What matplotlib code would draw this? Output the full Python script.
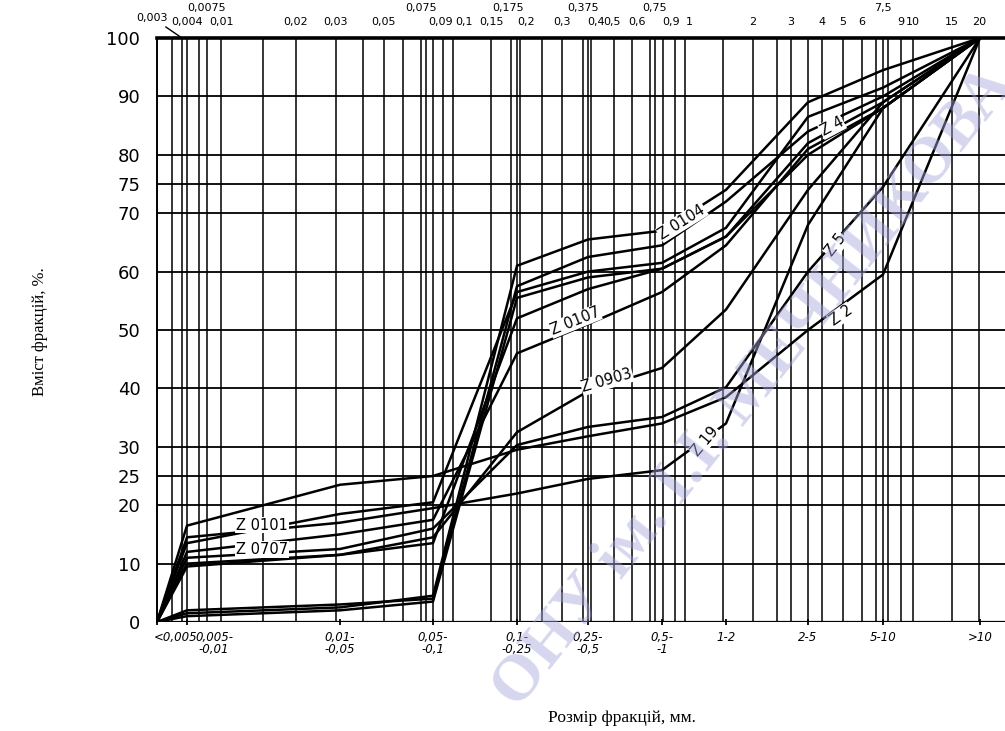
import matplotlib
matplotlib.use('Agg')
import matplotlib.pyplot as plt

# гранулометричний склад: категорії розміру фракцій (нижня вісь)
categories = ['<0,005', '0,005-\n-0,01', '0,01-\n-0,05', '0,05-\n-0,1', '0,1-\n-0,25',
              '0,25-\n-0,5', '0,5-\n-1', '1-2', '2-5', '5-10', '>10']

# кумулятивний вміст фракцій, %
z0104 = [0, 1.5, 2.5, 4.5, 61, 65.5, 67, 74, 89, 94.5, 100]
z4 = [0, 2, 3, 4, 57.5, 62.5, 64.5, 72, 84, 90, 100]
z_x = [0, 1, 2, 3.5, 55.5, 59, 60.5, 66, 82, 89, 100]
z0101 = [0, 13.5, 18.5, 20.5, 56.5, 60, 61.5, 67.5, 86.5, 91.5, 100]
z0707 = [0, 10, 11.5, 13.5, 52, 57, 60.5, 66, 80, 88, 100]
z0107 = [0, 12, 15, 17.5, 46, 51, 56.5, 64.5, 81, 88, 100]
z0903 = [0, 9.5, 11.5, 14.5, 32.5, 39.5, 43.5, 53.5, 74, 89, 100]
z5 = [0, 11, 12.5, 16, 30.3, 33.4, 35.1, 40.2, 60, 74.5, 100]
z2 = [0, 16.5, 23.5, 25, 29.5, 31.8, 34, 38.5, 50, 59.5, 100]
z19 = [0, 14.5, 17, 19.5, 22, 24.5, 26, 34, 68, 88, 100]

# верхня шкала, мм
top_labels = ['0,004', '0,0075', '0,01', '0,02', '0,03', '0,05', '0,075', '0,09', '0,1',
              '0,15', '0,175', '0,2', '0,3', '0,375', '0,4', '0,5', '0,6', '0,75', '0,9', '1',
              '2', '3', '4', '5', '6', '7,5', '9', '10', '15', '20']

y_ticks = [0, 10, 20, 25, 30, 40, 50, 60, 70, 75, 80, 90, 100]

# --- розкладка (рисунок намальований вручну, шкала нерівномірна) ---
cat_x = [0, 30, 183, 276, 360, 431, 505, 569, 651, 726, 823]
cat_label_x = {'<0,005': 19, '0,005-\n-0,01': 57}
top_x = [30, 50, 64, 139, 179, 227, 264, 286, 296, 334, 354, 363, 405, 426, 434,
         457, 475, 498, 518, 528, 596, 634, 665, 686, 705, 726, 744, 756, 795, 822]
top_shift = {'0,09': -2, '0,1': 11, '0,5': -2, '0,6': 5, '0,9': -4, '1': 4,
             '0,175': -3, '0,2': 6, '0,4': 5}
top_raised = ['0,0075', '0,075', '0,175', '0,375', '0,75', '7,5']
extra_grid = [15, 25, 42, 106, 206, 246, 269, 276, 360, 385, 431, 493, 506, 566, 620,
              651, 719, 731]

fig = plt.figure(figsize=(10.05, 7.31), dpi=100)
ax = fig.add_axes([157 / 1005, 109 / 731, 870 / 1005, 584 / 731])
ax.set_xlim(0, 870)
ax.set_ylim(0, 100)

for x in top_x + extra_grid:
    ax.axvline(x, color='black', lw=1.1, zorder=1)
for y in y_ticks[1:-1]:
    ax.axhline(y, color='black', lw=1.3, zorder=1)
ax.axhline(100, color='black', lw=2.6, zorder=1, clip_on=False)
ax.axhline(0, color='black', lw=1.6, zorder=1)

for s in ['top', 'right', 'bottom']:
    ax.spines[s].set_visible(False)
ax.spines['left'].set_linewidth(1.4)

series = [z0104, z4, z_x, z0101, z0707, z0107, z0903, z5, z2, z19]
for vals in series:
    ax.plot(cat_x, vals, color='black', lw=1.8, zorder=3, solid_joinstyle='round')

# підписи кривих
curve_labels = [('Z 0101', 105, 16.6, 0), ('Z 0707', 105, 12.4, 0),
                ('Z 0104', 525, 68.5, 32), ('Z 0107', 418, 51.5, 22),
                ('Z 0903', 450, 41.3, 16), ('Z 19', 548, 31.0, 50),
                ('Z 4', 675, 84.8, 28), ('Z 5', 679, 64.5, 52), ('Z 2', 684, 52.5, 35)]
for txt, x, y, rot in curve_labels:
    ax.text(x, y, txt, fontsize=10.5, ha='center', va='center', rotation=rot, zorder=4,
            bbox=dict(facecolor='white', edgecolor='none', pad=0.5))

# нижня шкала
ax.set_xticks(cat_x)
ax.set_xticklabels([])
ax.tick_params(axis='x', length=5, width=1.3, direction='inout')
for lab, x in zip(categories, cat_x):
    ax.text(cat_label_x.get(lab, x), -1.6, lab, fontsize=8.5, ha='center', va='top',
            linespacing=0.9, style='italic', clip_on=False)
ax.set_yticks(y_ticks)
ax.set_yticklabels([str(v) for v in y_ticks], fontsize=13)
ax.tick_params(axis='y', length=0, pad=12)

# верхня шкала
for lab, x in zip(top_labels, top_x):
    y = 105.2 if lab in top_raised else 102.8
    ax.text(x + top_shift.get(lab, 0), y, lab, fontsize=8, ha='center', va='center',
            clip_on=False)
ax.annotate('0,003', xy=(25, 100), xytext=(-5, 103.5), fontsize=8, ha='center',
            va='center', annotation_clip=False,
            arrowprops=dict(arrowstyle='-', color='black', lw=1, shrinkA=2, shrinkB=0))

fig.text(40 / 1005, 1 - 332 / 731, 'Вміст фракцій, %.', rotation=90, ha='center',
         va='center', fontsize=12, family='Liberation Serif')
fig.text(622 / 1005, 1 - 718 / 731, 'Розмір фракцій, мм.', ha='center', va='center',
         fontsize=12.5, family='Liberation Serif')

# водяний знак
fig.text(505 / 1005, 1 - 700 / 731, 'ОНУ ім. І.І. МЕЧНИКОВА', rotation=51.5,
         rotation_mode='anchor', ha='left', va='center', fontsize=47, weight='bold',
         family='Liberation Serif', color='#a4a4da', alpha=0.45, zorder=5)

fig.savefig('out.png', dpi=100)
